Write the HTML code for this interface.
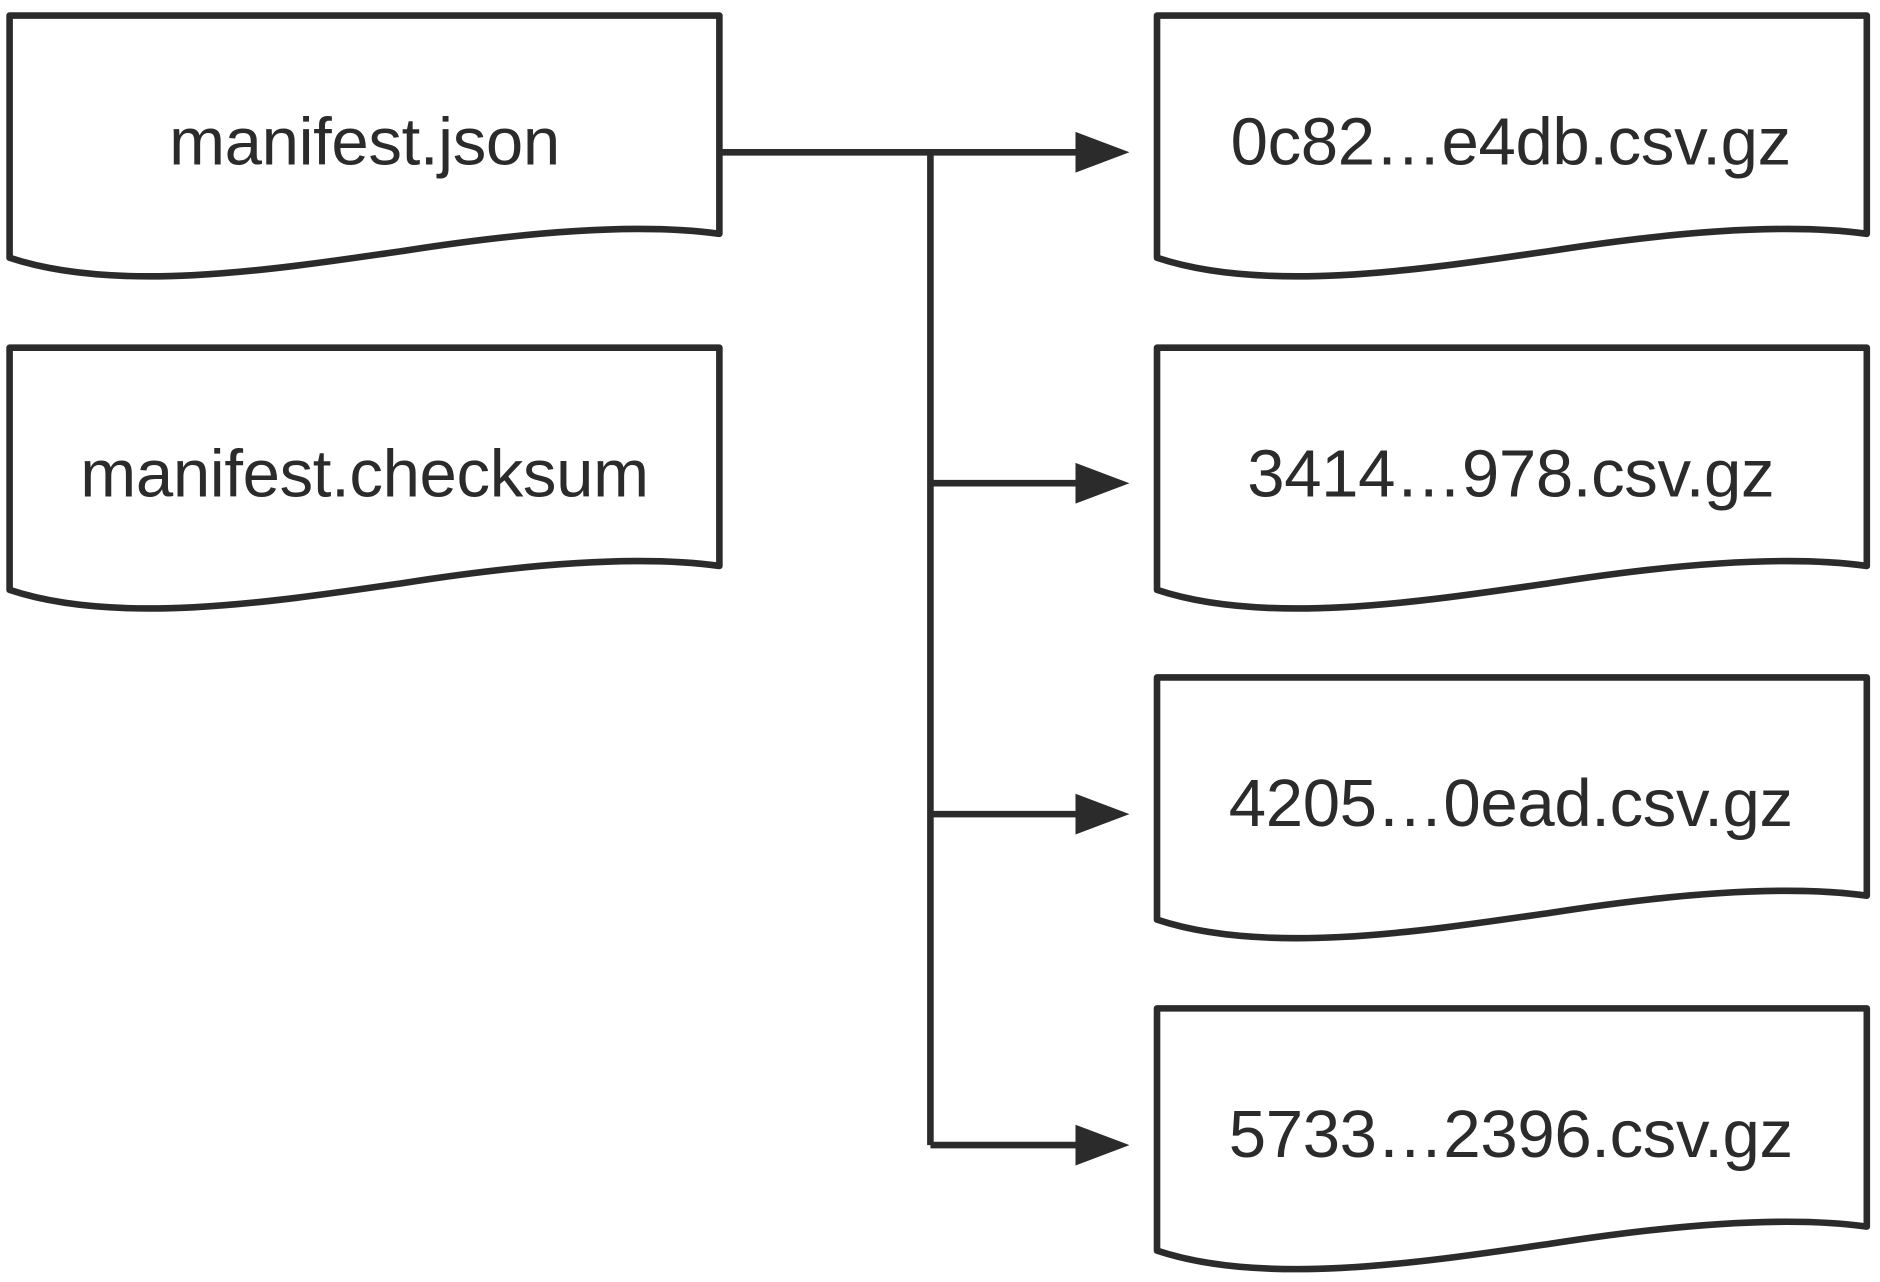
<!DOCTYPE html>
<html><head><meta charset="utf-8"><style>html,body{margin:0;padding:0;background:#fff;}svg{display:block}</style></head>
<body>
<svg width="1880" height="1282" viewBox="0 0 1568 1069.2" preserveAspectRatio="none" xmlns="http://www.w3.org/2000/svg">
<defs>
<g id="doc">
<path d="M0,0 H592 V182 C520,172 420,182 330,196 C220,212 90,232 0,202 Z" fill="#fff" stroke="#2b2b2b" stroke-width="5.5" stroke-linejoin="round"/>
</g>
</defs>
<g font-family="'Liberation Sans', Arial, sans-serif" font-size="56" fill="#2b2b2b" text-anchor="middle" letter-spacing="-0.3">
<use href="#doc" x="8" y="13"/>
<text x="304" y="137">manifest.json</text>
<use href="#doc" x="8" y="290"/>
<text x="304" y="414">manifest.checksum</text>
<use href="#doc" x="965" y="13"/>
<text x="1260" y="137">0c82…e4db.csv.gz</text>
<use href="#doc" x="965" y="290"/>
<text x="1260" y="414">3414…978.csv.gz</text>
<use href="#doc" x="965" y="565"/>
<text x="1260" y="689">4205…0ead.csv.gz</text>
<use href="#doc" x="965" y="841"/>
<text x="1260" y="965">5733…2396.csv.gz</text>
</g>
<g stroke="#2b2b2b" stroke-width="5.5" fill="none">
<path d="M600,127 H776 V955"/>
<path d="M776,127 H900 M776,403 H900 M776,679 H900 M776,955 H900"/>
</g>
<g fill="#2b2b2b">
<path d="M897,110 L942,127 L897,144 Z"/>
<path d="M897,386 L942,403 L897,420 Z"/>
<path d="M897,662 L942,679 L897,696 Z"/>
<path d="M897,938 L942,955 L897,972 Z"/>
</g>
</svg>
</body></html>
